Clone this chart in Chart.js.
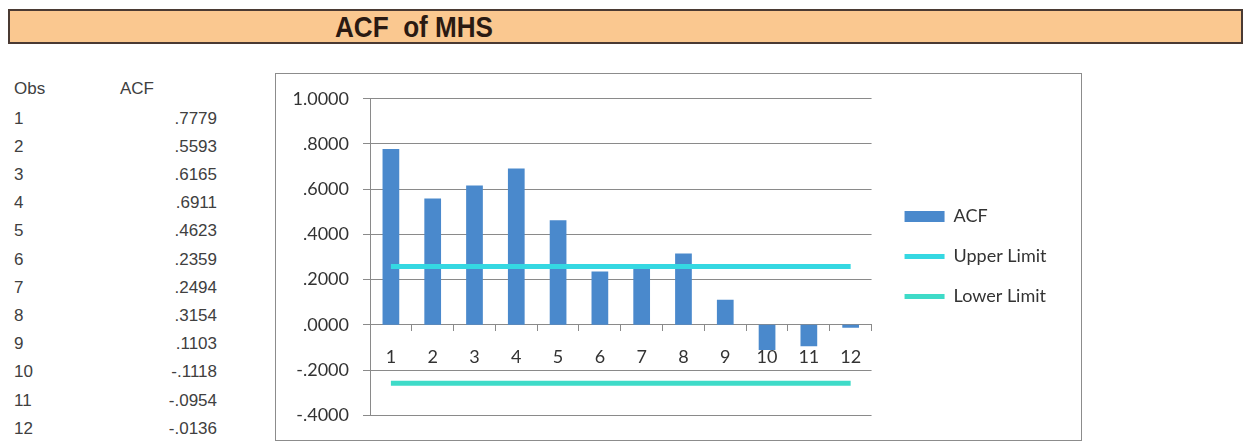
<!DOCTYPE html>
<html>
<head>
<meta charset="utf-8">
<script src="https://cdn.jsdelivr.net/npm/chart.js@4.4.1/dist/chart.umd.min.js"></script>
<style>
  html, body { margin: 0; padding: 0; background: #ffffff; }
  body { width: 1247px; height: 445px; position: relative; overflow: hidden; }
  #titlebar { position: absolute; left: 8px; top: 9px; width: 1235px; height: 35px; box-sizing: border-box;
    border: 2px solid #4a3a33; background: #FAC890; }
  #title { position: absolute; left: 335px; top: 11.6px; line-height: 30px; font-size: 30px; font-weight: bold;
    font-family: "Liberation Sans Narrow", "Arial Narrow", "Liberation Sans", sans-serif; color: #2a1a12; white-space: pre;
    transform: scaleX(0.87); transform-origin: 0 50%; }
  .cell { position: absolute; font-family: "Liberation Sans", Arial, sans-serif; font-size: 17px; line-height: 20px; color: #404040; white-space: pre; }
  .val { text-align: right; width: 100px; }
  #chartbox { position: absolute; left: 275px; top: 73px; width: 807px; height: 368px; box-sizing: border-box; border: 1px solid #8c8c8c; background: #fff; }
  #c { position: absolute; left: 276px; top: 74px; }
</style>
</head>
<body>
<div id="titlebar"></div>
<div id="title">ACF  of MHS</div>
<div id="table"></div>
<div id="chartbox"></div>
<canvas id="c" width="805" height="366"></canvas>
<script>
// ---- data ----
const obsLabels = ['1', '2', '3', '4', '5', '6', '7', '8', '9', '10', '11', '12'];
const acfValues = [0.7779, 0.5593, 0.6165, 0.6911, 0.4623, 0.2359, 0.2494, 0.3154, 0.1103, -0.1118, -0.0954, -0.0136];
const upperLimit = [0.2582, 0.2582, 0.2582, 0.2582, 0.2582, 0.2582, 0.2582, 0.2582, 0.2582, 0.2582, 0.2582, 0.2582];
const lowerLimit = [-0.2582, -0.2582, -0.2582, -0.2582, -0.2582, -0.2582, -0.2582, -0.2582, -0.2582, -0.2582, -0.2582, -0.2582];
const tableHeaders = ['Obs', 'ACF'];
const seriesNames = ['ACF', 'Upper Limit', 'Lower Limit'];

function fmt(v) {
  let s = Number(v).toFixed(4);
  if (s === '-0.0000') s = '0.0000';
  return s.replace(/^(-?)0\./, '$1.');
}

// ---- table ----
const table = document.getElementById('table');
function addCell(text, left, centerY, cls) {
  const d = document.createElement('div');
  d.className = 'cell' + (cls ? ' ' + cls : '');
  d.textContent = text;
  d.style.left = left + 'px';
  d.style.top = (centerY - 9.8) + 'px';
  table.appendChild(d);
}
addCell(tableHeaders[0], 14, 88.3);
addCell(tableHeaders[1], 120, 88.3);
obsLabels.forEach((o, i) => {
  const cy = 118.3 + 28.2 * i;
  addCell(o, 14, cy);
  addCell(fmt(acfValues[i]), 117, cy, 'val');
});

// ---- chart ----
const tickFont = { family: 'Lato, "Open Sans", sans-serif', size: 18 };
const colors = { bar: '#4A89CC', upper: '#35D8E2', lower: '#3EDBC8', grid: '#8a8a8a', text: '#333333' };

const legendShift = {
  id: 'legendShift',
  afterLayout(chart) {
    const l = chart.legend;
    if (l) { l.left += 11; l.right += 11; }
  }
};

new Chart(document.getElementById('c'), {
  type: 'bar',
  data: {
    labels: obsLabels,
    datasets: [
      { label: seriesNames[0], data: acfValues, backgroundColor: colors.bar, borderWidth: 0,
        categoryPercentage: 1.0, barPercentage: 0.4, order: 2 },
      { type: 'line', label: seriesNames[1], data: upperLimit, borderColor: colors.upper, backgroundColor: colors.upper,
        borderWidth: 5, pointRadius: 0, fill: false, tension: 0, borderCapStyle: 'butt', order: 1 },
      { type: 'line', label: seriesNames[2], data: lowerLimit, borderColor: colors.lower, backgroundColor: colors.lower,
        borderWidth: 5, pointRadius: 0, fill: false, tension: 0, borderCapStyle: 'butt', order: 1 }
    ]
  },
  options: {
    responsive: false,
    animation: false,
    devicePixelRatio: 1,
    layout: { padding: { top: 23, bottom: 24, left: 0, right: 35.5 } },
    plugins: {
      tooltip: { enabled: false },
      title: { display: false },
      legend: {
        position: 'right',
        align: 'center',
        labels: {
          usePointStyle: true,
          pointStyleWidth: 40,
          boxHeight: 11,
          padding: 22,
          color: colors.text,
          font: { family: 'Lato, "Open Sans", sans-serif', size: 18 },
          sort: (a, b) => a.datasetIndex - b.datasetIndex,
          generateLabels: (chart) => chart.data.datasets.map((ds, i) => ({
            text: ds.label,
            datasetIndex: i,
            hidden: false,
            fontColor: colors.text,
            fillStyle: ds.type === 'line' ? ds.borderColor : ds.backgroundColor,
            strokeStyle: ds.type === 'line' ? ds.borderColor : ds.backgroundColor,
            lineWidth: ds.type === 'line' ? 5 : 0,
            pointStyle: ds.type === 'line' ? 'line' : 'rect',
            rotation: 0
          }))
        }
      }
    },
    scales: {
      x: {
        type: 'category',
        position: { y: 0 },
        offset: true,
        grid: { display: true, drawOnChartArea: false, drawTicks: true, tickLength: 6, color: colors.grid, offset: true },
        border: { display: true, color: colors.grid },
        ticks: { font: tickFont, color: colors.text, padding: 16, maxRotation: 0 }
      },
      y: {
        min: -0.4,
        max: 1.0,
        afterFit: (scale) => { scale.width = 94; },
        grid: { color: colors.grid, drawTicks: true, tickLength: 7 },
        border: { display: true, color: colors.grid },
        ticks: { stepSize: 0.2, font: tickFont, color: colors.text, padding: 14, callback: (v) => fmt(v) }
      }
    }
  },
  plugins: [legendShift]
});
</script>
</body>
</html>
